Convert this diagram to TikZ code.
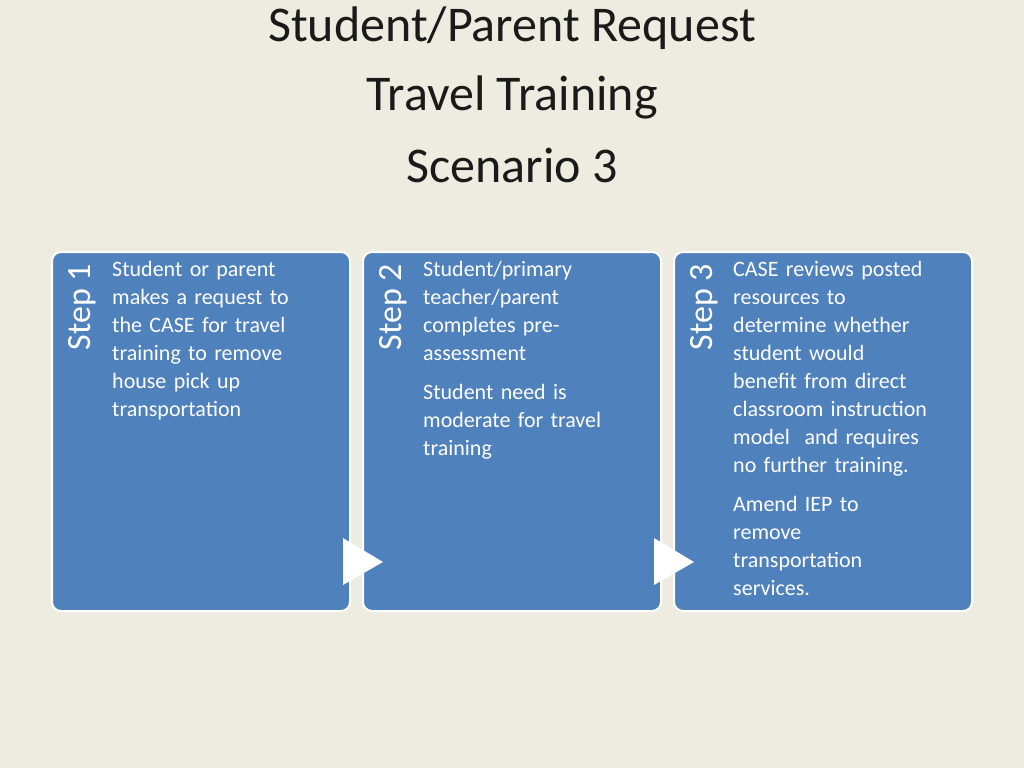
\documentclass[tikz,border=0pt]{standalone}
\usepackage{fontspec}
\setmainfont{Carlito}
\definecolor{bg}{HTML}{EEECE1}
\definecolor{boxblue}{HTML}{4F81BD}
\definecolor{ttl}{HTML}{1A1A1A}
\begin{document}
\begin{tikzpicture}[x=1pt,y=-1pt,
  stepbox/.style={fill=boxblue,draw=white,line width=2pt,rounded corners=9pt},
  steplabel/.style={text=white,font=\fontsize{34}{34}\selectfont,rotate=90,anchor=north east,inner sep=0pt},
  body/.style={text=white,font=\fontsize{22}{28}\selectfont,align=left,anchor=north west,inner sep=0pt,text width=245pt},
  tri/.style={fill=white,draw=none},
  titletext/.style={text=ttl,font=\fontsize{50}{50}\selectfont,inner sep=0pt}]
\fill[bg] (0,0) rectangle (1024,768);
\useasboundingbox (0,0) rectangle (1024,768);
\node[titletext] (t1) at (512,28) {Student/Parent Request};
\node[titletext] (t2) at (512,97) {Travel Training};
\node[titletext] (t3) at (512,165) {Scenario 3};

\draw[stepbox] (52,252) rectangle (350,611);
\draw[stepbox] (363,252) rectangle (661,611);
\draw[stepbox] (674,252) rectangle (972,611);

\node[steplabel] (s1) at (68,264) {Step 1};
\node[steplabel] (s2) at (379,264) {Step 2};
\node[steplabel] (s3) at (690,264) {Step 3};

\node[body] (b1) at (112,261) {Student or parent\\makes a request to\\the CASE for travel\\training to remove\\house pick up\\transportation};
\node[body] (b2) at (423,261) {Student/primary\\teacher/parent\\completes pre-\\assessment\\[11pt]Student need is\\moderate for travel\\training};
\node[body] (b3) at (733,261) {CASE reviews posted\\resources to\\determine whether\\student would\\benefit from direct\\classroom instruction\\model\ \ and requires\\no further training.\\[11pt]Amend IEP to\\remove\\transportation\\services.};

\fill[tri] (343,538) -- (383,562) -- (343,585) -- cycle;
\fill[tri] (654,538) -- (694,562) -- (654,585) -- cycle;
\end{tikzpicture}
\end{document}
